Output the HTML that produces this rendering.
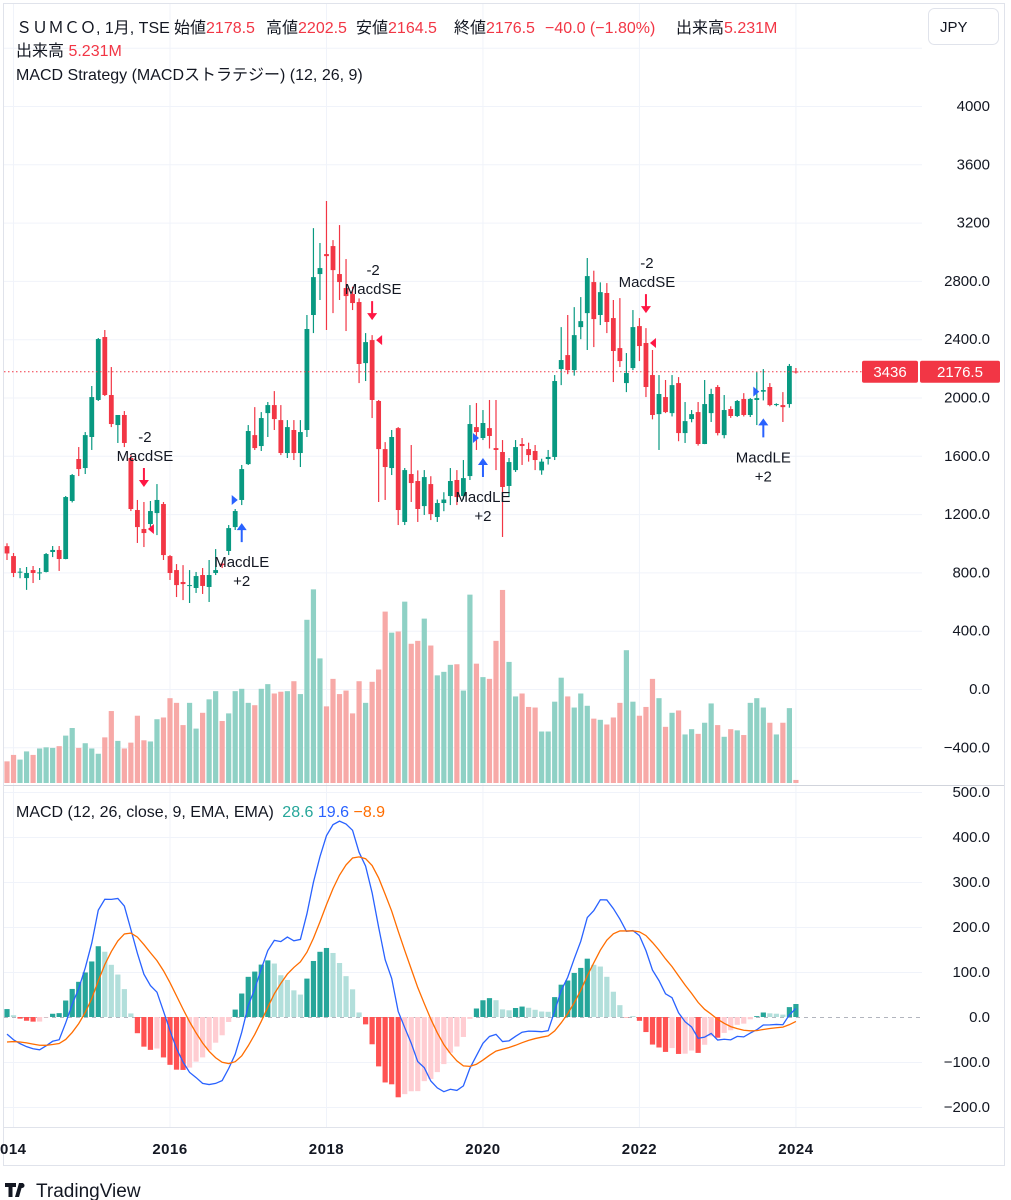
<!DOCTYPE html>
<html><head><meta charset="utf-8">
<style>
html,body{margin:0;padding:0;background:#fff;}
svg{display:block;font-family:"Liberation Sans","Noto Sans CJK JP",sans-serif;}
</style></head>
<body>
<svg id="chart" width="1011" height="1200" viewBox="0 0 1011 1200" xmlns="http://www.w3.org/2000/svg">
  <rect x="0" y="0" width="1011" height="1200" fill="#fff"/>
  <rect x="3.5" y="3.5" width="1001" height="1162" fill="none" stroke="#e0e3eb"/>
  <g id="grid"></g>
  <g id="volume"></g>
  <g id="candles"></g>
  <g id="markers"></g>
  <g id="macd"></g>
  <g id="axes"></g>
  <line x1="4" y1="785.5" x2="1004" y2="785.5" stroke="#d1d4dc"/>
  <line x1="4" y1="1127.5" x2="1004" y2="1127.5" stroke="#e0e3eb"/>
  <g font-size="16">
    <text x="16" y="33" fill="#131722">ＳＵＭＣＯ, 1月, TSE</text>
    <text x="174" y="33" fill="#131722">始値<tspan fill="#f23645">2178.5</tspan></text>
    <text x="266" y="33" fill="#131722">高値<tspan fill="#f23645">2202.5</tspan></text>
    <text x="356" y="33" fill="#131722">安値<tspan fill="#f23645">2164.5</tspan></text>
    <text x="454" y="33" fill="#131722">終値<tspan fill="#f23645">2176.5</tspan></text>
    <text x="545" y="33" fill="#f23645">−40.0 (−1.80%)</text>
    <text x="676" y="33" fill="#131722">出来高<tspan fill="#f23645">5.231M</tspan></text>
    <text x="16" y="56" fill="#131722">出来高 <tspan fill="#f23645">5.231M</tspan></text>
    <text x="16" y="80" fill="#131722">MACD Strategy (MACDストラテジー) (12, 26, 9)</text>
    <text x="16" y="817" fill="#131722">MACD (12, 26, close, 9, EMA, EMA) <tspan fill="#26a69a" dx="4">28.6</tspan> <tspan fill="#2962ff">19.6</tspan> <tspan fill="#ff6d00">−8.9</tspan></text>
  </g>
  <g>
    <rect x="928.5" y="8.5" width="70" height="36" rx="6" fill="#fff" stroke="#e0e3eb"/>
    <text x="940" y="32" font-size="15" fill="#131722">JPY</text>
  </g>
  <g>
    <path d="M5 1183h11v4h-3.5v10h-4v-10H5z M19 1183h4l-4 14h-4z M22 1188a2.5 2.5 0 1 1 0.01 0z" fill="#131722"/>
    <text x="36" y="1197" font-size="19" fill="#131722">TradingView</text>
  </g>
</svg>
<script>
// ---- data (monthly, Dec 2013 .. Jan 2024) ----
const opens=[980,912,800,761,816,796,803,940,954,892,1290,1578,1516,1729,1983,2415,2017,1811,1880,1585,1228,1098,1132,1207,1269,912,816,734,707,693,782,700,796,860,947,1111,1297,1543,1742,1667,1893,1948,1845,1619,1777,1619,1777,2566,2847,2984,3039,2847,2751,2710,2655,2236,2394,1976,1646,1516,1790,1146,1475,1427,1255,1406,1180,1276,1324,1434,1324,1461,1797,1722,1790,1653,1626,1393,1502,1681,1646,1633,1500,1578,1592,2195,2291,2188,2483,2579,2792,2566,2717,2545,2339,2099,2202,2490,2374,2154,1886,2003,1893,2099,1756,1852,1900,1681,1893,2072,1742,1921,1873,1990,1880,1983,2040,2072,1950,1948,1955,2178.5];
const highs=[1000,933,830,837,844,830,933,981,981,1324,1475,1660,1763,2079,2408,2463,2209,1880,1907,1605,1297,1283,1290,1406,1283,919,857,850,816,803,830,885,960,870,1125,1235,1537,1811,1934,1900,1969,2044,1948,1845,1845,1845,2566,3162,3060,3348,3080,3183,2950,2760,2680,2442,2428,1983,1694,1777,1797,1516,1674,1500,1502,1460,1300,1350,1516,1502,1571,1948,1962,1914,1983,1983,1708,1585,1708,1722,1690,1674,1580,1640,2154,2483,2566,2620,2689,2957,2870,2790,2785,2669,2682,2305,2600,2545,2476,2326,2154,2120,2154,2140,1969,1914,1969,2120,2060,2085,2017,1940,1983,2030,1996,2175,2195,2099,1960,2037,2230,2202.5];
const lows=[885,768,760,680,727,748,800,905,810,890,1280,1461,1475,1640,1976,2010,1797,1688,1660,1221,1002,974,1111,1056,885,748,631,610,590,659,652,597,782,830,919,1091,1262,1537,1640,1633,1729,1777,1605,1585,1571,1523,1729,2442,2669,2463,2579,2669,2456,2600,2099,2113,1859,1283,1297,1468,1125,1125,1283,1146,1194,1159,1146,1220,1262,1262,1300,1434,1640,1708,1650,1502,1043,1317,1489,1537,1560,1502,1470,1540,1571,2085,2160,2150,2400,2326,2346,2497,2442,2106,2209,2037,2188,2250,2003,1850,1640,1893,1870,1700,1688,1830,1670,1680,1832,1740,1720,1860,1866,1870,1866,1811,1980,1940,1940,1832,1930,2164.5];
const closes=[930,796,805,796,796,800,926,954,892,1317,1468,1509,1742,2003,2401,2017,1818,1880,1688,1235,1111,1070,1221,1297,919,796,713,720,713,775,707,782,816,850,1104,1221,1509,1770,1653,1859,1948,1852,1619,1797,1619,1763,2470,2826,2888,2970,2874,2792,2696,2648,2230,2380,1983,1646,1523,1729,1228,1502,1413,1235,1454,1200,1276,1300,1427,1317,1447,1818,1763,1825,1736,1640,1386,1557,1660,1667,1605,1571,1560,1592,2113,2257,2188,2428,2524,2833,2538,2723,2518,2319,2250,2168,2483,2353,2072,1880,2024,1900,2085,1756,1838,1886,1681,1955,2024,1756,1914,1873,1976,1880,1990,1996,2051,1948,1955,1934,2216.5,2176.5];
const volumes=[37,48,40,54,48,59,61,60,63,81,94,60,68,59,50,78,123,72,59,69,115,73,71,109,112,145,137,99,137,93,120,143,157,106,119,157,161,137,133,161,169,153,156,157,174,152,279,331,213,131,178,152,158,119,174,137,173,194,293,257,259,310,238,243,281,235,184,190,202,203,158,322,204,181,178,243,330,207,148,153,130,129,88,88,139,180,148,129,153,132,110,108,100,112,137,227,139,115,130,178,145,96,120,124,83,92,84,103,136,99,79,92,90,82,137,145,129,103,83,103,128,5.231];
const priceTicks=[4400,4000,3600,3200,2800,2400,2000,1600,1200,800,400,0,-400];
const priceTickLabels=["4400","4000","3600","3200","2800.0","2400.0","2000.0","1600.0","1200.0","800.0","400.0","0.0","−400.0"];
const macdTicks=[500,400,300,200,100,0,-100,-200];
const macdTickLabels=["500.0","400.0","300.0","200.0","100.0","0.0","−100.0","−200.0"];
const yearLabels=["014","2016","2018","2020","2022","2024"];
const yearIndex=[1,25,49,73,97,121];
const sellSignals=[21,56,98];
const buySignals=[36,73,116];
const macdSeed=[1000,1035,-60]; // ema12, ema26, signal before first bar

// ---- scales ----
const X=k=>7+6.52*k;
const Y=v=>689-v*0.14575;
const VY=v=>783-v*0.585;
const MY=v=>1017-v*0.45;
const NS="http://www.w3.org/2000/svg";
function mk(tag,parent,attrs){const e=document.createElementNS(NS,tag);for(const a in attrs)e.setAttribute(a,attrs[a]);parent.appendChild(e);return e;}
const G=id=>document.getElementById(id);
const UP="#089981",DN="#f23645";

// grid
const grid=G('grid');
priceTicks.forEach(v=>{const l=mk('line',grid,{x1:4,x2:922,y1:Y(v)+.5,y2:Y(v)+.5,stroke:'#f0f3fa'});

});
macdTicks.forEach(v=>{if(v===0)return;const l=mk('line',grid,{x1:4,x2:922,y1:MY(v)+.5,y2:MY(v)+.5,stroke:'#f0f3fa'});

});
yearIndex.forEach(k=>{[[4,785],[786,1127]].forEach(r=>{const l=mk('line',grid,{x1:X(k),x2:X(k),y1:r[0],y2:r[1],stroke:'#f0f3fa'});

});});

// volume
const vg=G('volume');
volumes.forEach((v,k)=>{const up=closes[k]>=opens[k];
const r=mk('rect',vg,{x:X(k)-2.6,y:VY(v),width:5.2,height:783-VY(v),fill:up?'#8fd1c5':'#f7a9a7'});

});

// current price line
const pl=mk('line',G('axes'),{x1:4,x2:922,y1:Y(closes[closes.length-1]),y2:Y(closes[closes.length-1]),stroke:'#f23645','stroke-dasharray':'1.5 2.5'});



// candles
const cg=G('candles');
opens.forEach((o,k)=>{const c=closes[k],up=c>=o,col=up?UP:DN,x=X(k);
const g=mk('g',cg,{});


mk('line',g,{x1:x,x2:x,y1:Y(highs[k]),y2:Y(lows[k]),stroke:col,'stroke-width':1.2});
const t=Y(Math.max(o,c)),b=Y(Math.min(o,c));
mk('rect',g,{x:x-2.4,y:t,width:4.8,height:Math.max(1,b-t),fill:col});});

// markers
const mg=G('markers');
function txt(p,x,y,s,col,name){const t=mk('text',p,{x:x,y:y,'text-anchor':'middle','font-size':15,fill:col});t.textContent=s;

return t;}
sellSignals.forEach(k=>{const x=X(k),yb=Y(highs[k])-15;
const g=mk('g',mg,{});


mk('path',g,{d:`M${x-1} ${yb-19}h2v12h4l-5 7l-5-7h4z`,fill:'#ff1744'});
txt(g,x+1,yb-26,'MacdSE','#131722','sell-signal-label');
txt(g,x+1,yb-45,'-2','#131722','sell-signal-qty');
const ty=Y(opens[k]),tx=X(k)+4;
mk('path',g,{d:`M${tx} ${ty}l6-5v10z`,fill:'#ff1744'});});
buySignals.forEach(k=>{const x=X(k),yt=Y(lows[k])+18;
const g=mk('g',mg,{});


mk('path',g,{d:`M${x-1} ${yt+19}h2v-12h4l-5-7l-5 7h4z`,fill:'#2962ff'});
txt(g,x,yt+44,'MacdLE','#131722','buy-signal-label');
txt(g,x,yt+63,'+2','#131722','buy-signal-qty');
const ty=Y(opens[k]),tx=X(k)-4;
mk('path',g,{d:`M${tx} ${ty}l-6-5v10z`,fill:'#2962ff'});});

// MACD computed from closes
const a12=2/13,a26=2/27,a9=2/10;
let e12=macdSeed[0],e26=macdSeed[1],sg=macdSeed[2];
const macdLine=[],sigLine=[],hist=[];
closes.forEach(c=>{e12=e12+a12*(c-e12);e26=e26+a26*(c-e26);const m=e12-e26;sg=sg+a9*(m-sg);macdLine.push(m);sigLine.push(sg);hist.push(m-sg);});
const mdg=G('macd');
const zl=mk('line',mdg,{x1:4,x2:922,y1:MY(0)+.5,y2:MY(0)+.5,stroke:'#b2b5be','stroke-dasharray':'4 4'});


hist.forEach((h,k)=>{const prev=k?hist[k-1]:h;let col;
if(h>=0)col=h>=prev?'#26a69a':'#b2dfdb';else col=h<prev?'#ff5252':'#ffcdd2';
const y0=MY(0),y1=MY(h);
const r=mk('rect',mdg,{x:X(k)-2.6,y:Math.min(y0,y1),width:5.2,height:Math.abs(y1-y0),fill:col});

});
const ml=mk('polyline',mdg,{points:macdLine.map((v,k)=>X(k)+','+MY(v)).join(' '),fill:'none',stroke:'#2962ff','stroke-width':1.3});


const sl=mk('polyline',mdg,{points:sigLine.map((v,k)=>X(k)+','+MY(v)).join(' '),fill:'none',stroke:'#ff6d00','stroke-width':1.3});



// axes labels
const ax=G('axes');
function alab(x,y,s,name,anchor,extra){const t=mk('text',ax,Object.assign({x:x,y:y,'font-size':15,fill:'#131722','text-anchor':anchor||'start'},extra||{}));t.textContent=s;

return t;}
priceTicks.forEach((v,i)=>{if(v===4400)return;alab(990,Y(v)+5,priceTickLabels[i],'price-axis-label','end');});
macdTicks.forEach((v,i)=>alab(990,MY(v)+5,macdTickLabels[i],'macd-axis-label','end'));
yearIndex.forEach((k,i)=>{const x=i===0?0:X(k);alab(x,1154,yearLabels[i],'time-axis-label',i===0?'start':'middle',{'font-weight':'bold','letter-spacing':'0.5'});});
// price tags
const ly=Y(closes[closes.length-1]);
const tg=mk('g',ax,{});


mk('rect',tg,{x:862,y:ly-11,width:56,height:22,rx:2,fill:'#f23645'});
mk('rect',tg,{x:920,y:ly-11,width:80,height:22,rx:2,fill:'#f23645'});
const t1=mk('text',tg,{x:890,y:ly+5,'text-anchor':'middle','font-size':15,fill:'#fff'});t1.textContent='3436';
const t2=mk('text',tg,{x:960,y:ly+5,'text-anchor':'middle','font-size':15,fill:'#fff'});t2.textContent='2176.5';
</script>
</body></html>
